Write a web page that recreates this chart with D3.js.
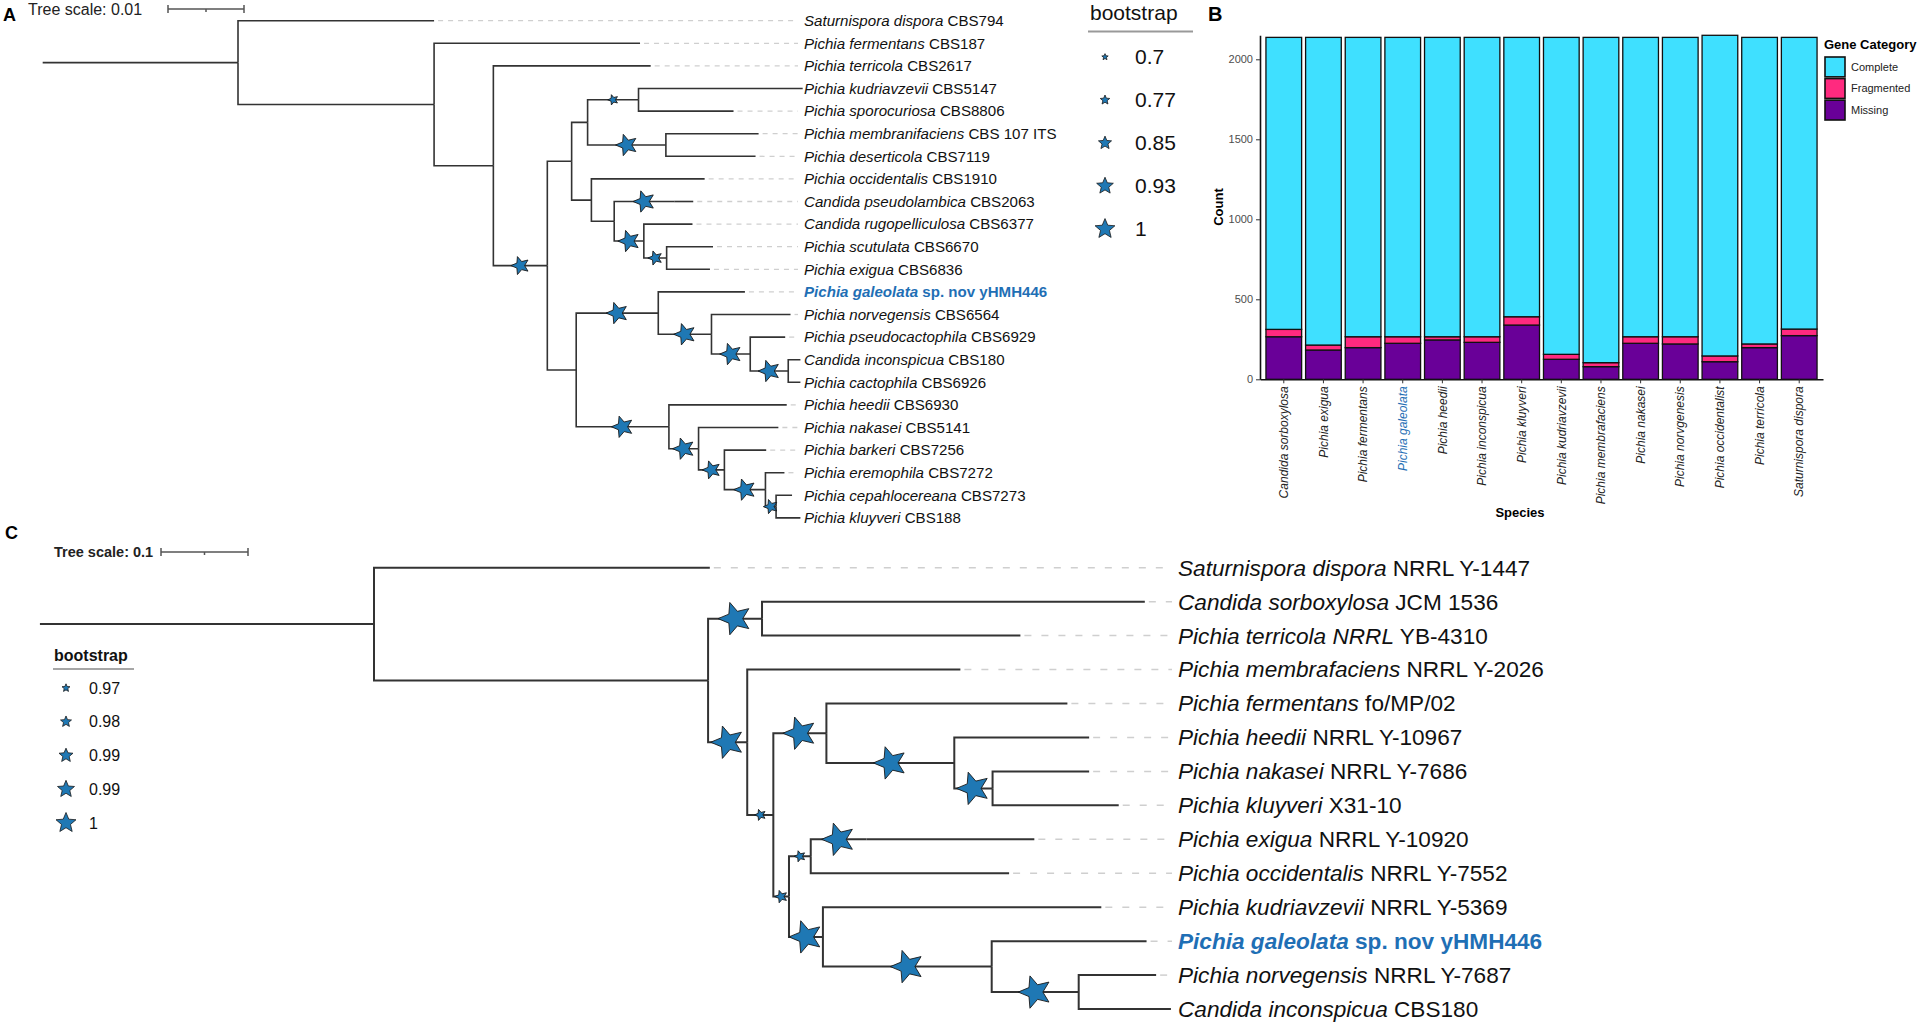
<!DOCTYPE html>
<html><head><meta charset="utf-8">
<script src="https://cdn.jsdelivr.net/npm/d3@7"></script>
<style>body{margin:0;background:#fff}svg{display:block}</style>
</head><body><svg id="fig" width="1920" height="1023"></svg>
<script>
// ================= DATA =================
// Panel A: ITS phylogeny (branch lengths in substitutions/site, internal labels = bootstrap)
const treeA_newick = `
(Saturnispora_dispora:0.0258,
 (Pichia_fermentans:0.0271,
  (Pichia_terricola:0.0207,
   (
    (
     ((Pichia_kudriavzevii:0.0216,Pichia_sporocuriosa:0.0125)0.77:0.0067,
      (Pichia_membranifaciens:0.0122,Pichia_deserticola:0.0118)1:0.0103):0.0021,
     (Pichia_occidentalis:0.0149,
      ((Candida_pseudolambica:0.0025)1:0.0079,
       (Candida_rugopelliculosa:0.0064,
        (Pichia_scutulata:0.0061,Pichia_exigua:0.0057)0.85:0.0030)1:0.0039):0.0030):0.0026
    ):0.0032,
    (
     (Pichia_galeolata:0.0114,
      (Pichia_norvegensis:0.0104,
       (Pichia_pseudocactophila:0.0046,
        (Candida_inconspicua:0.0016,Pichia_cactophila:0.0016)1:0.0050)1:0.0051)1:0.0070)1:0.0108,
     (Pichia_heedii:0.0155,
      (Pichia_nakasei:0.0105,
       (Pichia_barkeri:0.0055,
        (Pichia_eremophila:0.0025,
         (Pichia_cepahlocereana:0.0021,Pichia_kluyveri:0.0032)0.85:0.0014)1:0.0054)0.93:0.0034)1:0.0039)1:0.0122
    ):0.0038
   )0.93:0.0071
  ):0.0078
 ):0.0258
):0.0257;`;
const treeA_scaleValue = 0.01;
const treeA_labels = {
  Saturnispora_dispora: ["Saturnispora dispora", "CBS794"],
  Pichia_fermentans: ["Pichia fermentans", "CBS187"],
  Pichia_terricola: ["Pichia terricola", "CBS2617"],
  Pichia_kudriavzevii: ["Pichia kudriavzevii", "CBS5147"],
  Pichia_sporocuriosa: ["Pichia sporocuriosa", "CBS8806"],
  Pichia_membranifaciens: ["Pichia membranifaciens", "CBS 107 ITS"],
  Pichia_deserticola: ["Pichia deserticola", "CBS7119"],
  Pichia_occidentalis: ["Pichia occidentalis", "CBS1910"],
  Candida_pseudolambica: ["Candida pseudolambica", "CBS2063"],
  Candida_rugopelliculosa: ["Candida rugopelliculosa", "CBS6377"],
  Pichia_scutulata: ["Pichia scutulata", "CBS6670"],
  Pichia_exigua: ["Pichia exigua", "CBS6836"],
  Pichia_galeolata: ["Pichia galeolata", "sp. nov yHMH446"],
  Pichia_norvegensis: ["Pichia norvegensis", "CBS6564"],
  Pichia_pseudocactophila: ["Pichia pseudocactophila", "CBS6929"],
  Candida_inconspicua: ["Candida inconspicua", "CBS180"],
  Pichia_cactophila: ["Pichia cactophila", "CBS6926"],
  Pichia_heedii: ["Pichia heedii", "CBS6930"],
  Pichia_nakasei: ["Pichia nakasei", "CBS5141"],
  Pichia_barkeri: ["Pichia barkeri", "CBS7256"],
  Pichia_eremophila: ["Pichia eremophila", "CBS7272"],
  Pichia_cepahlocereana: ["Pichia cepahlocereana", "CBS7273"],
  Pichia_kluyveri: ["Pichia kluyveri", "CBS188"]
};
const treeA_legendValues = [0.7, 0.77, 0.85, 0.93, 1];
const treeA_legendLabels = ["0.7", "0.77", "0.85", "0.93", "1"];

// Panel C: phylogenomic tree
const treeC_newick = `
(Saturnispora_dispora:0.386,
 ((Candida_sorboxylosa:0.440,Pichia_terricola:0.297)1:0.062,
  (Pichia_membrafaciens:0.245,
   ((Pichia_fermentans:0.277,
     (Pichia_heedii:0.155,
      (Pichia_nakasei:0.111,Pichia_kluyveri:0.145)1:0.044)1:0.147)1:0.061,
    (((Pichia_exigua:0.193)1:0.064,Pichia_occidentalis:0.228)0.97:0.025,
     (Pichia_kudriavzevii:0.320,
      (Pichia_galeolata:0.178,
       (Pichia_norvegensis:0.089,Candida_inconspicua:0.106)1:0.100)1:0.194)1:0.039)0.98:0.018
   )0.97:0.030
  )1:0.045
 ):0.384
):0.384;`;
const treeC_scaleValue = 0.1;
const treeC_labels = {
  Saturnispora_dispora: ["Saturnispora dispora", "NRRL Y-1447"],
  Candida_sorboxylosa: ["Candida sorboxylosa", "JCM 1536"],
  Pichia_terricola: ["Pichia terricola NRRL", "YB-4310"],
  Pichia_membrafaciens: ["Pichia membrafaciens", "NRRL Y-2026"],
  Pichia_fermentans: ["Pichia fermentans", "fo/MP/02"],
  Pichia_heedii: ["Pichia heedii", "NRRL Y-10967"],
  Pichia_nakasei: ["Pichia nakasei", "NRRL Y-7686"],
  Pichia_kluyveri: ["Pichia kluyveri", "X31-10"],
  Pichia_exigua: ["Pichia exigua", "NRRL Y-10920"],
  Pichia_occidentalis: ["Pichia occidentalis", "NRRL Y-7552"],
  Pichia_kudriavzevii: ["Pichia kudriavzevii", "NRRL Y-5369"],
  Pichia_galeolata: ["Pichia galeolata", "sp. nov yHMH446"],
  Pichia_norvegensis: ["Pichia norvegensis", "NRRL Y-7687"],
  Candida_inconspicua: ["Candida inconspicua", "CBS180"]
};
const treeC_legendValues = [0.97, 0.98, 0.99, 0.99, 1];
const treeC_legendLabels = ["0.97", "0.98", "0.99", "0.99", "1"];
const highlightLeaf = "Pichia_galeolata";

// Panel B: BUSCO gene counts
const buscoSpecies = ["Candida sorboxylosa", "Pichia exigua", "Pichia fermentans", "Pichia galeolata",
  "Pichia heedii", "Pichia inconspicua", "Pichia kluyveri", "Pichia kudriavzevii", "Pichia membrafaciens",
  "Pichia nakasei", "Pichia norvgenesis", "Pichia occidentalist", "Pichia terricola", "Saturnispora dispora"];
const buscoComplete =   [1825, 1923, 1871, 1871, 1871, 1871, 1746, 1981, 2033, 1871, 1871, 2004, 1916, 1823];
const buscoFragmented = [  46,   31,   68,   41,   20,   35,   52,   31,   25,   41,   45,   36,   23,   41];
const buscoMissing =    [ 266,  183,  198,  225,  246,  231,  339,  125,   79,  225,  221,  110,  198,  273];
const buscoCategories = ["Complete", "Fragmented", "Missing"];
const buscoYTicks = [0, 500, 1000, 1500, 2000];
const buscoHighlight = "Pichia galeolata";

// ================= DRAWING =================
const FONT = "'Liberation Sans', Arial, Helvetica, sans-serif";
const BLUE = "#1f6fb5";
const STAR_FILL = "#1f78b4";
const svg = d3.select("#fig").attr("font-family", FONT);
svg.append("rect").attr("width", 1920).attr("height", 1023).attr("fill", "#fff");

function parseNewick(str) {
  const s = str.replace(/\s+/g, "");
  let i = 0;
  function node() {
    const n = { children: [] };
    if (s[i] === "(") {
      i++;
      n.children.push(node());
      while (s[i] === ",") { i++; n.children.push(node()); }
      i++;
    }
    let name = "";
    while (i < s.length && !":,();".includes(s[i])) name += s[i++];
    if (n.children.length) { if (name !== "") n.support = +name; } else n.name = name;
    n.length = 0;
    if (s[i] === ":") {
      i++;
      let len = "";
      while (i < s.length && !",();".includes(s[i])) len += s[i++];
      n.length = +len;
    }
    return n;
  }
  return node();
}

function starPath(R, ratio) {
  const pts = [];
  for (let k = 0; k < 10; k++) {
    const a = -Math.PI / 2 + k * Math.PI / 5;
    const r = k % 2 ? R * ratio : R;
    pts.push([r * Math.cos(a), r * Math.sin(a)]);
  }
  return "M" + pts.map(p => p[0].toFixed(2) + "," + p[1].toFixed(2)).join("L") + "Z";
}

function drawTree(o) {
  const g = svg.append("g");
  const root = d3.hierarchy(parseNewick(o.newick), d => d.children.length ? d.children : null);
  root.eachBefore(d => { d.dist = d.parent ? d.parent.dist + d.data.length : 0; });
  const x = d3.scaleLinear().domain([0, o.scaleValue]).range([o.rootX, o.rootX + o.scalePx]);
  const leaves = root.leaves();
  const y = d3.scalePoint().domain(leaves.map(d => d.data.name))
    .range([o.y0, o.y0 + o.dy * (leaves.length - 1)]);
  root.eachAfter(d => {
    d.px = x(d.dist);
    d.py = d.children ? (d.children[0].py + d.children[d.children.length - 1].py) / 2 : y(d.data.name);
  });
  // leader dashes
  g.selectAll("line.lead").data(leaves.filter(d => d.px < o.labelX - o.leadGap - 6)).join("line")
    .attr("x1", d => d.px + 4).attr("x2", o.labelX - o.leadGap)
    .attr("y1", d => d.py).attr("y2", d => d.py)
    .attr("stroke", "#cfcfcf").attr("stroke-width", o.leadWidth).attr("stroke-dasharray", o.dash);
  // branches
  g.append("path").attr("d", `M${x(-root.data.length)},${root.py}H${root.px}`)
    .attr("stroke", "#333").attr("stroke-width", o.lw).attr("fill", "none");
  g.selectAll("path.br").data(root.descendants().filter(d => d.parent)).join("path")
    .attr("d", d => `M${d.parent.px},${d.parent.py}V${d.py}H${d.px}`)
    .attr("stroke", "#333").attr("stroke-width", o.lw).attr("fill", "none")
    .attr("stroke-linejoin", "miter");
  // bootstrap stars
  g.selectAll("path.star").data(root.descendants().filter(d => d.parent && d.data.support != null)).join("path")
    .attr("transform", d => `translate(${(d.parent.px + d.px) / 2},${d.py}) rotate(-90)`)
    .attr("d", d => starPath(o.starR(d.data.support), 0.45))
    .attr("fill", STAR_FILL).attr("stroke", "#1a1a1a").attr("stroke-width", 0.9);
  // labels
  const t = g.selectAll("text.leaf").data(leaves).join("text")
    .attr("x", o.labelX).attr("y", d => d.py).attr("dy", "0.35em")
    .attr("font-size", o.fontSize)
    .attr("fill", d => d.data.name === highlightLeaf ? BLUE : "#111")
    .attr("font-weight", d => d.data.name === highlightLeaf ? "bold" : "normal");
  t.append("tspan").attr("font-style", "italic").text(d => o.labels[d.data.name][0]);
  t.append("tspan").text(d => " " + o.labels[d.data.name][1]);
  return { x };
}

function scaleBar(xs, value, x0, yBar, text, tx, fs, bold) {
  const g = svg.append("g");
  const len = xs(value) - xs(0);
  g.append("text").attr("x", tx).attr("y", yBar).attr("dy", "0.35em").attr("font-size", fs)
    .attr("font-weight", bold ? "bold" : "normal").attr("fill", "#222").text(text);
  g.append("path").attr("d", `M${x0},${yBar}H${x0 + len}M${x0},${yBar - 4}V${yBar + 4}M${x0 + len},${yBar - 4}V${yBar + 4}M${x0 + len / 2},${yBar}V${yBar + 3}`)
    .attr("stroke", "#555").attr("stroke-width", 1.5).attr("fill", "none");
}

// ---------- Panel A ----------
const rA = d3.scaleLinear().domain([0.7, 1]).range([3.6, 11.2]);
const tA = drawTree({ newick: treeA_newick, labels: treeA_labels, scaleValue: treeA_scaleValue,
  rootX: 238, scalePx: 76, y0: 20.7, dy: 22.6, labelX: 804, leadGap: 6, fontSize: 15.1,
  lw: 1.6, dash: "5,5", leadWidth: 1.3, starR: v => rA(v) });
scaleBar(tA.x, treeA_scaleValue, 168, 9, "Tree scale: 0.01", 28, 16, false);
svg.append("text").attr("x", 3).attr("y", 21).attr("font-size", 18).attr("font-weight", "bold").text("A");
// legend A
const legA = svg.append("g");
legA.append("text").attr("x", 1090).attr("y", 13).attr("dy", "0.35em").attr("font-size", 21).attr("fill", "#111").text("bootstrap");
legA.append("line").attr("x1", 1088).attr("x2", 1193).attr("y1", 31.5).attr("y2", 31.5).attr("stroke", "#999").attr("stroke-width", 2);
const legAy = d3.scalePoint().domain(d3.range(treeA_legendValues.length)).range([57, 229]);
treeA_legendValues.forEach((v, i) => {
  legA.append("path").attr("transform", `translate(1105,${legAy(i)})`).attr("d", starPath(rA(v) * 0.93, 0.45))
    .attr("fill", STAR_FILL).attr("stroke", "#1a1a1a").attr("stroke-width", 0.8);
  legA.append("text").attr("x", 1135).attr("y", legAy(i)).attr("dy", "0.35em").attr("font-size", 21).attr("fill", "#111").text(treeA_legendLabels[i]);
});

// ---------- Panel C ----------
const rC = d3.scaleLinear().domain([0.97, 0.98, 1]).range([5.8, 6.5, 17]).clamp(true);
const tC = drawTree({ newick: treeC_newick, labels: treeC_labels, scaleValue: treeC_scaleValue,
  rootX: 374, scalePx: 87, y0: 567.7, dy: 33.95, labelX: 1178, leadGap: 6, fontSize: 22.6,
  lw: 2, dash: "7,10", leadWidth: 1.5, starR: v => rC(v) });
scaleBar(tC.x, treeC_scaleValue, 161, 552, "Tree scale: 0.1", 54, 14.5, true);
svg.append("text").attr("x", 5).attr("y", 539).attr("font-size", 18).attr("font-weight", "bold").text("C");
const legC = svg.append("g");
legC.append("text").attr("x", 54).attr("y", 655).attr("dy", "0.35em").attr("font-size", 16).attr("font-weight", "bold").attr("fill", "#111").text("bootstrap");
legC.append("line").attr("x1", 53).attr("x2", 134).attr("y1", 669).attr("y2", 669).attr("stroke", "#888").attr("stroke-width", 1.5);
const legCy = d3.scalePoint().domain(d3.range(treeC_legendValues.length)).range([688, 823]);
const legCr = d3.scaleLinear().domain([0, treeC_legendValues.length - 1]).range([4.2, 10.5]);
treeC_legendValues.forEach((v, i) => {
  legC.append("path").attr("transform", `translate(66,${legCy(i)})`).attr("d", starPath(legCr(i), 0.45))
    .attr("fill", STAR_FILL).attr("stroke", "#1a1a1a").attr("stroke-width", 0.8);
  legC.append("text").attr("x", 89).attr("y", legCy(i)).attr("dy", "0.35em").attr("font-size", 16).attr("fill", "#111").text(treeC_legendLabels[i]);
});

// ---------- Panel B ----------
const colors = { Complete: "#3fe0ff", Fragmented: "#ff2a7f", Missing: "#690098" };
const rows = buscoSpecies.map((s, i) => ({ species: s, Complete: buscoComplete[i], Fragmented: buscoFragmented[i], Missing: buscoMissing[i] }));
const stacked = d3.stack().keys(["Missing", "Fragmented", "Complete"])(rows);
const xB = d3.scaleBand().domain(buscoSpecies).range([1260, 1823]).paddingInner(0.1).paddingOuter(0.15);
const maxTot = d3.max(rows, r => r.Complete + r.Fragmented + r.Missing);
const yB = d3.scaleLinear().domain([0, maxTot]).range([379.3, 35.3]);
const gB = svg.append("g");
stacked.forEach(layer => {
  gB.selectAll(null).data(layer).join("rect")
    .attr("x", d => xB(d.data.species)).attr("width", xB.bandwidth())
    .attr("y", d => yB(d[1])).attr("height", d => yB(d[0]) - yB(d[1]))
    .attr("fill", colors[layer.key]).attr("stroke", "#111").attr("stroke-width", 1.3);
});
const yAx = gB.append("g").attr("transform", "translate(1260,0)")
  .call(d3.axisLeft(yB).tickValues(buscoYTicks).tickFormat(d3.format("d")).tickSize(4).tickSizeOuter(0).tickPadding(3));
yAx.select(".domain").attr("stroke", "#111").attr("stroke-width", 1.6);
yAx.selectAll(".tick line").attr("stroke", "#333");
yAx.selectAll(".tick text").attr("font-size", 11).attr("fill", "#4d4d4d").attr("font-family", FONT);
const xAx = gB.append("g").attr("transform", "translate(0,379.3)")
  .call(d3.axisBottom(xB).tickSize(4).tickSizeOuter(0));
xAx.select(".domain").attr("stroke", "#111").attr("stroke-width", 1.6);
xAx.selectAll(".tick line").attr("stroke", "#333");
xAx.selectAll(".tick text").attr("transform", "rotate(-90)").attr("text-anchor", "end")
  .attr("x", -7).attr("y", 0).attr("dy", "0.35em").attr("font-size", 12).attr("font-style", "italic")
  .attr("font-family", FONT)
  .attr("fill", d => d === buscoHighlight ? BLUE : "#222");
gB.append("text").attr("x", 1520).attr("y", 512).attr("dy", "0.35em").attr("text-anchor", "middle")
  .attr("font-size", 13).attr("font-weight", "bold").text("Species");
gB.append("text").attr("transform", "translate(1218,207) rotate(-90)").attr("dy", "0.35em").attr("text-anchor", "middle")
  .attr("font-size", 13).attr("font-weight", "bold").text("Count");
svg.append("text").attr("x", 1208).attr("y", 21).attr("font-size", 20).attr("font-weight", "bold").text("B");
// legend B
const legB = svg.append("g");
legB.append("text").attr("x", 1824).attr("y", 44).attr("dy", "0.35em").attr("font-size", 13).attr("font-weight", "bold").text("Gene Category");
const legBy = d3.scaleBand().domain(buscoCategories).range([57, 120]).paddingInner(0.08);
buscoCategories.forEach(c => {
  legB.append("rect").attr("x", 1825).attr("y", legBy(c)).attr("width", 20).attr("height", legBy.bandwidth())
    .attr("fill", colors[c]).attr("stroke", "#111").attr("stroke-width", 1.6);
  legB.append("text").attr("x", 1851).attr("y", legBy(c) + legBy.bandwidth() / 2).attr("dy", "0.35em")
    .attr("font-size", 11).attr("fill", "#222").text(c);
});
</script></body></html>
